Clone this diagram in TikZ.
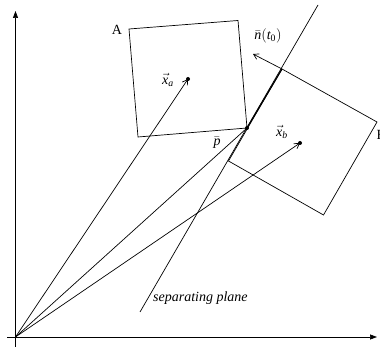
\documentclass[tikz,border=0pt]{standalone}
\usepackage{amsmath}
\usepackage{fontspec}
\setmainfont{Liberation Serif}
\usetikzlibrary{arrows.meta}
\newcommand{\ivar}[1]{\text{\itshape #1}}
\tikzset{
  ln/.style={line width=0.7pt, black},
  vec/.style={ln, -{Straight Barb[length=5pt,width=6pt]}},
  axis/.style={ln, -{Triangle[length=7pt,width=5pt]}},
  dot/.style={circle, fill=black, inner sep=0pt, minimum size=4pt},
  lbl/.style={inner sep=0pt, font=\fontsize{14}{16}\selectfont}
}
\begin{document}
\begin{tikzpicture}[x=1pt,y=-1pt]
\useasboundingbox (0,0) rectangle (380,347);
% coordinates
\coordinate (O) at (15.5,337);
\coordinate (xstart) at (7,337);
\coordinate (xend) at (377,337);
\coordinate (ystart) at (15.5,347);
\coordinate (yend) at (15.5,11);
\coordinate (A1) at (129,29);
\coordinate (A2) at (238,20.5);
\coordinate (A3) at (247,128);
\coordinate (A4) at (138,137);
\coordinate (B1) at (228.5,161);
\coordinate (B2) at (282,69);
\coordinate (B3) at (377,122);
\coordinate (B4) at (323.5,215);
\coordinate (S1) at (140,312);
\coordinate (S2) at (318,5);
\coordinate (N) at (253,54);
% axes
\draw[axis] (xstart) -- (xend);
\draw[axis] (ystart) -- (yend);
% boxes
\draw[ln] (A1) -- (A2) -- (A3) -- (A4) -- cycle;
\draw[ln] (B1) -- (B2) -- (B3) -- (B4) -- cycle;
% separating plane
\draw[ln] (S1) -- (S2);
\draw[line width=1.1pt] (A3) -- (B2);
% dots
\node[dot] (xa) at (188,79) {};
\node[dot] (p) at (A3) {};
\node[dot] (xb) at (300,143) {};
% vectors
\draw[vec] (O) -- (xa.center);
\draw[ln] (O) -- (p.center);
\draw[vec] (O) -- (xb.center);
\draw[vec] (B2) -- (N);
% labels
\node[lbl] (lA) at (117,30) {A};
\node[lbl, anchor=west] (lB) at (376.5,135) {B};
\node[lbl] (lxa) at (168,80) {$\vec{\ivar{x}}_{\ivar{a}}$};
\node[lbl] (lxb) at (282,132) {$\vec{\ivar{x}}_{\ivar{b}}$};
\node[lbl] (lp) at (217,143) {$\bar{\ivar{p}}$};
\node[lbl] (ln) at (268,36) {$\bar{\ivar{n}}(\ivar{t}_{\text{0}})$};
\node[lbl, anchor=west, font=\fontsize{14}{16}\selectfont\itshape] (lsep) at (153,298) {separating plane};
\end{tikzpicture}
\end{document}
